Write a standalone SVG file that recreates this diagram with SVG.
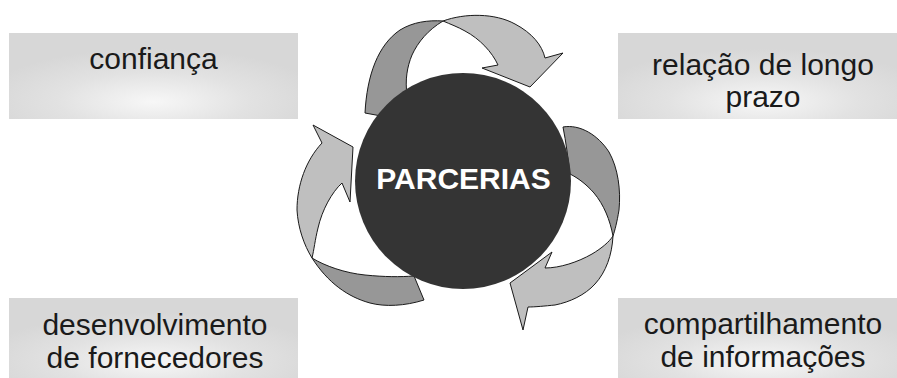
<svg xmlns="http://www.w3.org/2000/svg" width="897" height="378" viewBox="0 0 897 378">
  <defs>
    <radialGradient id="boxGrad" cx="50%" cy="78%" r="60%" fx="50%" fy="80%">
      <stop offset="0%" stop-color="#f7f7f7"/>
      <stop offset="55%" stop-color="#e2e2e2"/>
      <stop offset="100%" stop-color="#d7d7d7"/>
    </radialGradient>
    <style>
      .box { fill: url(#boxGrad); }
      .lbl { font-family: "Liberation Sans", Arial, sans-serif; font-size: 30px; fill: #1a1a1a; text-anchor: middle; }
      .center { font-family: "Liberation Sans", Arial, sans-serif; font-size: 30px; font-weight: bold; fill: #ffffff; text-anchor: middle; }
      .dark { fill: #979797; stroke: #1a1a1a; stroke-width: 1; stroke-linejoin: round; }
      .light { fill: #bfbfbf; stroke: #1a1a1a; stroke-width: 1; stroke-linejoin: round; }
    </style>
  </defs>
  <rect width="897" height="378" fill="#ffffff"/>

  <g id="node-confianca">
    <rect class="box" x="9" y="33" width="289" height="86"/>
    <text class="lbl" x="153.5" y="69">confiança</text>
  </g>
  <g id="node-relacao">
    <rect class="box" x="618" y="33" width="289" height="86"/>
    <text class="lbl" x="763" y="75">relação de longo</text>
    <text class="lbl" x="763" y="107">prazo</text>
  </g>
  <g id="node-desenvolvimento">
    <rect class="box" x="9" y="298" width="289" height="80"/>
    <text class="lbl" x="155" y="335">desenvolvimento</text>
    <text class="lbl" x="155" y="368">de fornecedores</text>
  </g>
  <g id="node-compartilhamento">
    <rect class="box" x="618" y="298" width="289" height="80"/>
    <text class="lbl" x="763" y="334">compartilhamento</text>
    <text class="lbl" x="763" y="367">de informações</text>
  </g>

  <g id="connectors">
    <g id="arrow-top">
      <path class="dark" d="M365,113 C367,75 378,45 400,30 C413,22 428,20 443,21 C428,30 418,42 412,55 C407,67 405,80 407,95 L392,118 Z"/>
      <path class="light" d="M443,21 C465,13 495,13 515,24 C532,33 542,45 545,58 L563,53 L530,87 L482,68 L498,65 C492,52 480,39 465,31 C458,27 450,24 443,21 Z"/>
    </g>
    <g id="arrow-right">
      <path class="dark" d="M563,127 C580,124 598,135 609,152 C618,168 621,190 619,210 C617,222 615,230 613,236 C610,220 604,205 594,193 C586,184 578,178 570,174 C568,158 566,142 563,127 Z"/>
      <path class="light" d="M613,236 C612,255 606,272 595,284 C585,295 570,302 555,305 C545,306 535,307 528,307 L523,330 L510,283 L552,252 L545,268 C560,268 578,262 592,254 C602,248 609,242 613,236 Z"/>
    </g>
    <g id="arrow-left">
      <path class="dark" d="M312,258 C325,266 345,273 365,275 C385,277 400,277 414,276 L424,300 C405,306 385,307 370,303 C348,297 328,283 312,258 Z"/>
      <path class="light" d="M322,143 L313,125 L353,147 L350,202 L342,183 C332,192 322,210 318,228 C315,240 314,250 312,258 C304,245 298,228 297,210 C297,185 306,160 322,143 Z"/>
    </g>
  </g>

  <g id="node-parcerias">
    <circle cx="463" cy="181" r="108" fill="#343434"/>
    <text class="center" x="463.5" y="189">PARCERIAS</text>
  </g>
</svg>
